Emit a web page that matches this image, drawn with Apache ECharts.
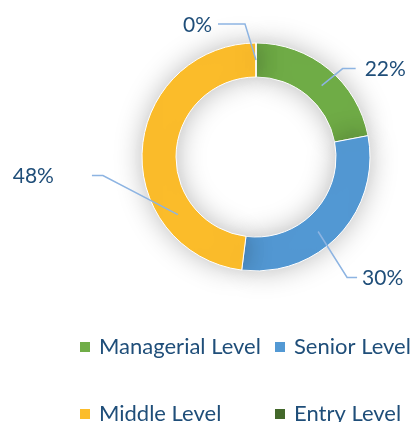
<!DOCTYPE html>
<html>
<head>
<meta charset="utf-8">
<script src="https://cdn.jsdelivr.net/npm/echarts@6/dist/echarts.min.js"></script>
<style>
  html, body { margin: 0; padding: 0; background: #fff; }
  #chart { width: 411px; height: 422px; }
</style>
</head>
<body>
<div id="chart"></div>
<script>
// data
var levels = ['Managerial Level', 'Senior Level', 'Middle Level', 'Entry Level'];
var shares = [22, 30, 48, 0];
var levelColors = ['#70ad47', '#5399d4', '#fcbd2b', '#43682b'];

// leader line shape per label:
// [anchor shift from mid angle (deg), elbow dx, elbow dy, end dx, gap to text]
var leaderShape = [
    [3, 21, -17, 34, 9],
    [7, 29, 46, 39, 5],
    [-40, -75, -39, -86, 38],
    [0, -11, -36, -38, 6]
];
// legend slots: [left, top]
var legendSlots = [[78, 336], [273, 336], [78, 403], [273, 403]];

var textBlue = '#1f4e79';
var fontName = 'Lato, "Open Sans", sans-serif';
var pieCenter = [256, 157];
var pieRadius = [80, 114];

var chartEl = document.getElementById('chart');
var chart = echarts.init(chartEl);

var pieData = levels.map(function (name, i) {
    return { name: name, value: shares[i], itemStyle: { color: levelColors[i] } };
});

// mid angle of each slice, clockwise from 12 o'clock
var total = shares.reduce(function (a, b) { return a + b; }, 0);
var midAngles = [];
var acc = 0;
shares.forEach(function (v) {
    midAngles.push((acc + v / 2) / total * Math.PI * 2);
    acc += v;
});

var placeLabel = function (params) {
    var i = params.dataIndex;
    var s = leaderShape[i];
    var rMid = (pieRadius[0] + pieRadius[1]) / 2;
    var a = midAngles[i] + s[0] * Math.PI / 180;
    var p0 = [pieCenter[0] + rMid * Math.sin(a), pieCenter[1] - rMid * Math.cos(a)];
    var p1 = [p0[0] + s[1], p0[1] + s[2]];
    var p2 = [p0[0] + s[3], p1[1]];
    var right = s[3] > 0;
    return {
        x: p2[0] + (right ? s[4] : -s[4]),
        y: p2[1] + 1,
        align: right ? 'left' : 'right',
        verticalAlign: 'middle',
        labelLinePoints: [p0, p1, p2]
    };
};

var legends = levels.map(function (name, i) {
    return {
        data: [name],
        left: legendSlots[i][0],
        top: legendSlots[i][1],
        padding: 0,
        icon: 'rect',
        itemWidth: 12,
        itemHeight: 12,
        selectedMode: false,
        textStyle: {
            color: textBlue,
            fontSize: 22,
            fontFamily: fontName,
            padding: [0, 0, 0, 3]
        }
    };
});

var option = {
    animation: false,
    legend: legends,
    series: [{
        // the ring itself
        type: 'pie',
        z: 2,
        center: pieCenter,
        radius: pieRadius,
        startAngle: 90,
        clockwise: true,
        data: pieData,
        itemStyle: {
            borderColor: '#fff',
            borderWidth: 1,
            shadowBlur: 28,
            shadowColor: 'rgba(0,0,0,0.28)'
        },
        label: { show: false },
        labelLine: { show: false },
        emphasis: { disabled: true },
        silent: true
    }, {
        // see-through copy on top, carrying labels and leader lines
        type: 'pie',
        z: 6,
        center: pieCenter,
        radius: pieRadius,
        startAngle: 90,
        clockwise: true,
        data: shares.map(function (v, i) {
            return { name: levels[i], value: v, itemStyle: { color: 'rgba(0,0,0,0)' } };
        }),
        itemStyle: { borderWidth: 0, shadowBlur: 0 },
        label: {
            show: true,
            formatter: '{c}%',
            color: textBlue,
            fontSize: 21,
            fontFamily: fontName,
            overflow: 'none'
        },
        labelLine: {
            show: true,
            length: 18,
            length2: 12,
            lineStyle: { color: '#8db4e2', width: 1.5 }
        },
        labelLayout: placeLabel,
        emphasis: { disabled: true },
        silent: true
    }]
};

chart.setOption(option);
</script>
</body>
</html>
